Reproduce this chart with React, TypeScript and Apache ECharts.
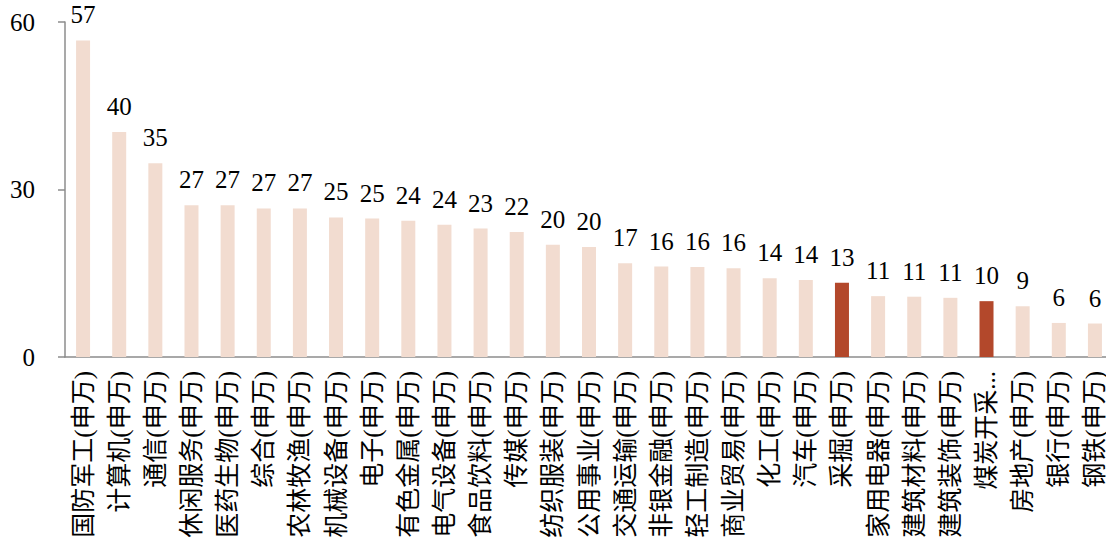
import React, { useEffect, useRef } from "react";
import * as echarts from "echarts";

// Industry names (SW level-1), in display order
const categories: string[] = [
  "国防军工(申万)", "计算机(申万)", "通信(申万)", "休闲服务(申万)", "医药生物(申万)",
  "综合(申万)", "农林牧渔(申万)", "机械设备(申万)", "电子(申万)", "有色金属(申万)",
  "电气设备(申万)", "食品饮料(申万)", "传媒(申万)", "纺织服装(申万)", "公用事业(申万)",
  "交通运输(申万)", "非银金融(申万)", "轻工制造(申万)", "商业贸易(申万)", "化工(申万)",
  "汽车(申万)", "采掘(申万)", "家用电器(申万)", "建筑材料(申万)", "建筑装饰(申万)",
  "煤炭开采...", "房地产(申万)", "银行(申万)", "钢铁(申万)",
];

const values: number[] = [
  56.7, 40.3, 34.7, 27.2, 27.2,
  26.6, 26.6, 25.0, 24.8, 24.4,
  23.7, 23.0, 22.4, 20.1, 19.7,
  16.8, 16.2, 16.1, 15.9, 14.1,
  13.8, 13.3, 10.9, 10.8, 10.6,
  10.0, 9.1, 6.1, 6.0,
];

// Highlighted industries drawn in the dark colour
const highlighted: string[] = ["采掘(申万)", "煤炭开采..."];

const yTicks: number[] = [0, 30, 60];

const LIGHT = "#F2DCD0";
const DARK = "#B3482B";
const AXIS = "#8C8C8C";
const SERIF = "'Liberation Serif', 'Times New Roman', serif";
const CJK = "'Liberation Serif', 'Noto Sans CJK SC', serif";

export default function App() {
  const ref = useRef<HTMLDivElement>(null);

  useEffect(() => {
    if (!ref.current) return;
    const chart = echarts.init(ref.current, undefined, { renderer: "svg" });
    chart.setOption({
      animation: false,
      grid: { left: 65, right: 7, top: 22, bottom: 196, containLabel: false },
      xAxis: {
        type: "category",
        data: categories,
        axisLine: { show: true, lineStyle: { color: AXIS, width: 1.5 } },
        axisTick: { show: false },
        axisLabel: {
          interval: 0,
          rotate: 90,
          margin: 14,
          color: "#000",
          fontSize: 25,
          fontFamily: CJK,
        },
      },
      yAxis: {
        type: "value",
        min: yTicks[0],
        max: yTicks[yTicks.length - 1],
        interval: yTicks[1] - yTicks[0],
        axisLine: { show: true, lineStyle: { color: AXIS, width: 1.5 } },
        axisTick: { show: true, length: 7, lineStyle: { color: AXIS, width: 1.5 } },
        splitLine: { show: false },
        axisLabel: {
          margin: 30,
          color: "#000",
          fontSize: 25,
          fontFamily: SERIF,
        },
      },
      series: [
        {
          type: "bar",
          barWidth: 14,
          data: values.map((v, i) => ({
            value: v,
            itemStyle: { color: highlighted.includes(categories[i]) ? DARK : LIGHT },
          })),
          label: {
            show: true,
            position: "top",
            distance: 13,
            color: "#000",
            fontSize: 25,
            fontFamily: SERIF,
            formatter: (p: any) => String(Math.round(p.value)),
          },
        },
      ],
    });
    return () => chart.dispose();
  }, []);

  return (
    <div
      ref={ref}
      style={{ position: "fixed", left: 0, top: 0, width: 1120, height: 553, background: "#fff" }}
    />
  );
}
